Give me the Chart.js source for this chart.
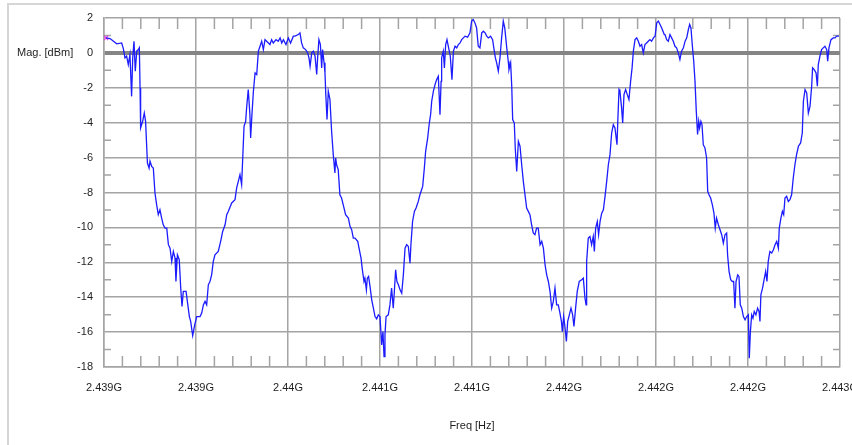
<!DOCTYPE html>
<html>
<head>
<meta charset="utf-8">
<script src="https://cdn.jsdelivr.net/npm/chart.js@4.4.0/dist/chart.umd.min.js"></script>
<style>
  html, body { margin: 0; padding: 0; background: #fff; }
  canvas { display: block; }
</style>
</head>
<body>
<canvas id="spectrum" width="852" height="445"></canvas>
<script>
// frequency in MHz, magnitude in dBm
const freqMHz = [
  2439.011, 2439.033, 2439.069, 2439.096, 2439.105, 2439.114, 2439.123, 2439.132, 2439.141, 2439.150,
  2439.156, 2439.163, 2439.170, 2439.178, 2439.187, 2439.192, 2439.196, 2439.199, 2439.210, 2439.219,
  2439.226, 2439.236, 2439.245, 2439.250, 2439.259, 2439.268, 2439.277, 2439.286, 2439.295, 2439.304,
  2439.313, 2439.322, 2439.332, 2439.341, 2439.350, 2439.359, 2439.368, 2439.377, 2439.386, 2439.391,
  2439.399, 2439.409, 2439.417, 2439.424, 2439.431, 2439.446, 2439.453, 2439.464, 2439.471, 2439.482,
  2439.493, 2439.504, 2439.522, 2439.531, 2439.540, 2439.549, 2439.558, 2439.567, 2439.576, 2439.585,
  2439.594, 2439.603, 2439.621, 2439.634, 2439.645, 2439.658, 2439.667, 2439.676, 2439.694, 2439.712,
  2439.721, 2439.730, 2439.739, 2439.748, 2439.754, 2439.761, 2439.770, 2439.775, 2439.784, 2439.793,
  2439.797, 2439.804, 2439.812, 2439.821, 2439.830, 2439.839, 2439.848, 2439.857, 2439.866, 2439.875,
  2439.884, 2439.902, 2439.911, 2439.920, 2439.935, 2439.947, 2439.957, 2439.966, 2439.975, 2439.989,
  2440.002, 2440.014, 2440.029,
  2440.038, 2440.056, 2440.065, 2440.074, 2440.083, 2440.096, 2440.107, 2440.114, 2440.120, 2440.129,
  2440.138, 2440.147, 2440.156, 2440.161, 2440.168, 2440.176, 2440.183, 2440.188, 2440.196, 2440.201,
  2440.205, 2440.212, 2440.219, 2440.228, 2440.237, 2440.246, 2440.255, 2440.259, 2440.264, 2440.273,
  2440.282, 2440.291, 2440.300, 2440.313, 2440.328, 2440.337, 2440.346, 2440.355, 2440.364, 2440.379,
  2440.386, 2440.397, 2440.403, 2440.413, 2440.418, 2440.426, 2440.431, 2440.438, 2440.447, 2440.455,
  2440.464, 2440.473, 2440.482, 2440.491, 2440.500, 2440.509, 2440.516, 2440.522, 2440.527, 2440.533,
  2440.545, 2440.554, 2440.563, 2440.572, 2440.578, 2440.585, 2440.592, 2440.600, 2440.609, 2440.618,
  2440.627, 2440.636, 2440.645, 2440.654, 2440.663, 2440.668, 2440.677, 2440.687, 2440.696, 2440.708,
  2440.717, 2440.732, 2440.741, 2440.748, 2440.759, 2440.768, 2440.775, 2440.781, 2440.790, 2440.799,
  2440.808, 2440.817, 2440.826, 2440.832, 2440.835, 2440.844, 2440.850, 2440.857, 2440.864, 2440.873,
  2440.882, 2440.891, 2440.899, 2440.908, 2440.917, 2440.926, 2440.935, 2440.944, 2440.953, 2440.962,
  2440.976, 2440.989, 2440.998, 2441.007, 2441.016, 2441.025, 2441.034, 2441.043,
  2441.053, 2441.062, 2441.071, 2441.080, 2441.089, 2441.101, 2441.112, 2441.120, 2441.127, 2441.134,
  2441.143, 2441.152, 2441.161, 2441.170, 2441.178, 2441.188, 2441.197, 2441.201, 2441.210, 2441.216,
  2441.221, 2441.230, 2441.235, 2441.243, 2441.252, 2441.261, 2441.270, 2441.279, 2441.288, 2441.297,
  2441.306, 2441.315, 2441.324, 2441.333, 2441.342, 2441.351, 2441.360, 2441.370, 2441.379, 2441.388,
  2441.397, 2441.406, 2441.415, 2441.424, 2441.433, 2441.442, 2441.451, 2441.460, 2441.469, 2441.478,
  2441.486, 2441.491, 2441.498, 2441.505, 2441.513, 2441.520, 2441.529, 2441.538, 2441.547, 2441.554,
  2441.563, 2441.572, 2441.583, 2441.596, 2441.605, 2441.614, 2441.620, 2441.623, 2441.632, 2441.641,
  2441.650, 2441.659, 2441.665, 2441.672, 2441.681, 2441.688, 2441.696, 2441.705, 2441.714, 2441.723,
  2441.732, 2441.741, 2441.750, 2441.759, 2441.768, 2441.777, 2441.788, 2441.792, 2441.799, 2441.804,
  2441.813, 2441.819, 2441.826, 2441.835, 2441.844, 2441.853, 2441.862, 2441.870, 2441.877, 2441.886,
  2441.895, 2441.904, 2441.913, 2441.922, 2441.931, 2441.940, 2441.949, 2441.958, 2441.967, 2441.976,
  2441.986, 2441.995, 2442.004, 2442.013, 2442.022, 2442.031, 2442.045,
  2442.049, 2442.058, 2442.067, 2442.076, 2442.085, 2442.094, 2442.103, 2442.112, 2442.121, 2442.130,
  2442.139, 2442.149, 2442.158, 2442.167, 2442.176, 2442.183, 2442.190, 2442.197, 2442.205, 2442.212,
  2442.219, 2442.226, 2442.232, 2442.237, 2442.244, 2442.250, 2442.257, 2442.266, 2442.275, 2442.281,
  2442.288, 2442.297, 2442.306, 2442.315, 2442.322, 2442.329, 2442.339, 2442.348, 2442.357, 2442.366,
  2442.375, 2442.384, 2442.389, 2442.397, 2442.406, 2442.415, 2442.422, 2442.429, 2442.435, 2442.444,
  2442.451, 2442.458, 2442.466, 2442.475, 2442.484, 2442.493, 2442.502, 2442.507, 2442.513, 2442.520,
  2442.527, 2442.534, 2442.543, 2442.552, 2442.560, 2442.565, 2442.570, 2442.579, 2442.589, 2442.596,
  2442.603, 2442.610, 2442.619, 2442.629, 2442.638, 2442.647, 2442.656, 2442.665, 2442.670, 2442.679,
  2442.687, 2442.694, 2442.701, 2442.710, 2442.719, 2442.728, 2442.737, 2442.746, 2442.755, 2442.764,
  2442.774, 2442.786, 2442.795, 2442.801, 2442.810, 2442.819, 2442.828, 2442.837, 2442.846, 2442.851,
  2442.860, 2442.870, 2442.877, 2442.882, 2442.891, 2442.900, 2442.909, 2442.918, 2442.928, 2442.933,
  2442.940, 2442.951, 2442.963, 2442.973, 2442.982, 2442.994
];

const magDbm = [
  0.86, 0.82, 0.52, 0.57, 0.25, -0.29, -0.19, -0.67, -0.10, -2.49,
  -0.29, 0.67, -1.05, 0.10, 0.19, 0.29, -2.01, -4.30, -3.92, -3.44,
  -3.92, -6.31, -6.60, -6.21, -6.50, -6.60, -8.03, -8.70, -9.27, -8.99,
  -9.46, -9.85, -10.04, -10.04, -10.99, -11.19, -11.95, -11.38, -11.76, -13.10,
  -11.57, -11.85, -13.48, -14.53, -13.67, -13.67, -14.24, -15.11, -15.39, -16.20,
  -15.58, -15.11, -15.11, -14.91, -14.44, -14.24, -14.44, -13.29, -13.10, -12.72,
  -11.95, -11.57, -11.38, -10.80, -10.23, -9.85, -9.27, -9.08, -8.60, -8.41,
  -7.74, -7.36, -6.98, -7.55, -6.02, -4.21, -3.92, -3.15, -2.10, -3.54,
  -4.88, -3.54, -2.20, -1.15, -1.24, 0.10, 0.38, 0.67, 0.19, 0.76,
  0.67, 0.48, 0.76, 0.57, 0.76, 0.67, 0.86, 0.57, 0.76, 0.48,
  0.86, 0.57, 0.96,
  0.96, 1.05, 1.15, 0.57, 0.29, 0.19, 0.00, -0.29, -0.76, 0.00,
  0.10, -0.19, -1.24, -0.29, 0.76, 0.48, -0.86, 0.19, -0.57, -1.15,
  -2.29, -3.82, -2.20, -2.68, -4.49, -5.83, -6.88, -6.02, -6.41, -6.69,
  -8.13, -8.32, -8.70, -9.27, -9.46, -9.94, -10.13, -10.61, -10.61, -10.80,
  -11.19, -11.76, -12.33, -13.10, -12.91, -13.58, -12.91, -12.81, -13.48, -14.15,
  -14.63, -15.11, -15.24, -15.01, -15.11, -16.73, -15.97, -17.40, -16.16, -15.11,
  -15.01, -14.44, -13.48, -14.63, -13.67, -12.43, -13.10, -13.29, -13.58, -13.77,
  -12.72, -11.19, -10.99, -11.09, -12.05, -10.99, -9.66, -9.08, -8.89, -8.51,
  -8.13, -7.65, -6.60, -5.64, -4.88, -4.02, -3.54, -2.77, -2.20, -1.82,
  -1.53, -1.34, -3.54, -1.63, -0.29, 0.10, -0.86, 0.48, 0.76, 0.29,
  -0.19, -1.53, 0.10, 0.38, 0.29, 0.48, 0.57, 0.76, 0.86, 0.96,
  0.90, 1.15, 1.82, 1.91, 1.72, 1.43, 0.38, 0.29,
  1.15, 1.24, 1.15, 0.96, 0.86, 0.96, 0.76, 0.19, -0.29, -0.57,
  -1.05, -0.29, 0.86, 1.82, 1.43, 0.38, -0.48, -0.96, -0.57, -1.91,
  -3.82, -4.02, -5.45, -6.79, -5.07, -5.35, -6.41, -7.36, -8.13, -8.89,
  -9.08, -9.27, -9.85, -10.32, -10.42, -10.04, -10.04, -10.99, -10.80, -11.19,
  -12.14, -12.72, -13.10, -13.67, -14.63, -14.24, -13.48, -14.44, -14.44, -14.91,
  -15.39, -15.97, -15.11, -15.68, -16.54, -15.39, -15.01, -14.63, -15.01, -15.68,
  -14.63, -13.67, -13.10, -13.00, -12.91, -14.05, -14.44, -11.95, -10.61, -10.52,
  -10.99, -10.52, -11.38, -10.04, -9.66, -10.42, -9.66, -9.18, -8.99, -8.22,
  -7.36, -6.41, -5.83, -4.59, -4.11, -4.30, -5.26, -4.02, -2.10, -2.20,
  -3.15, -4.02, -2.39, -2.10, -2.39, -2.68, -1.63, -0.86, 0.10, 0.76,
  0.86, 0.67, 0.38, 0.48, 0.00, 0.48, 0.57, 0.67, 0.76, 0.67,
  0.86, 0.96, 1.72, 1.82, 1.63, 1.43, 1.05,
  1.05, 0.76, 0.67, 1.05, 0.86, 0.67, 0.38, 0.29, 0.00, -0.38,
  0.10, 0.29, 0.67, 0.86, 1.34, 1.63, 1.43, 0.48, -0.48, -1.63,
  -3.35, -4.68, -3.92, -4.30, -3.92, -4.11, -5.26, -5.45, -6.02, -7.93,
  -8.13, -8.32, -8.70, -9.18, -10.04, -9.46, -9.85, -10.13, -10.42, -10.90,
  -10.42, -10.32, -11.57, -12.52, -13.00, -13.10, -13.10, -14.63, -13.10, -12.72,
  -12.81, -14.44, -14.63, -15.11, -15.30, -15.11, -15.01, -17.50, -15.97, -15.01,
  -15.20, -14.82, -15.01, -14.63, -14.82, -15.39, -13.86, -13.48, -12.91, -12.52,
  -13.10, -11.95, -11.38, -11.47, -11.28, -10.99, -10.80, -11.19, -10.04, -9.46,
  -9.08, -9.27, -8.32, -8.22, -8.51, -8.41, -8.13, -7.17, -6.41, -5.83,
  -5.35, -5.16, -4.59, -2.77, -2.10, -2.29, -3.44, -3.06, -1.91, -0.86,
  -0.96, -1.15, -1.91, -0.67, -0.19, 0.19, 0.29, 0.38, 0.19, -0.48,
  0.29, 0.76, 0.86, 0.86, 0.96, 0.96
];

// axis labels as the analyser prints them (rounded)
const freqTickLabels = ['2.439G', '2.439G', '2.44G', '2.441G', '2.441G', '2.442G', '2.442G', '2.442G', '2.443G'];
const freqMin = 2439, freqMax = 2443, freqStep = 0.5;
const magMin = -18, magMax = 2, magStep = 2;

const points = freqMHz.map((f, i) => ({ x: f, y: magDbm[i] }));

const GRID = '#a4a4a4';
const TEXT = '#1e1e1e';

// the labels in the screenshot are tall and narrow: use the narrow face if it is there
function pickFont() {
  const c = document.createElement('canvas').getContext('2d');
  c.font = '14px monospace';
  const mono = c.measureText('Mag. [dBm] 2.439G').width;
  c.font = '14px "Liberation Sans Narrow", monospace';
  const narrow = c.measureText('Mag. [dBm] 2.439G').width;
  if (Math.abs(mono - narrow) > 0.5) return { family: '"Liberation Sans Narrow"', size: 13.5 };
  return { family: '"Liberation Sans", Arial, sans-serif', size: 11 };
}
const FONT = pickFont();

// white sheet with the light panel frame
const panel = {
  id: 'panel',
  beforeDraw(chart) {
    const ctx = chart.ctx;
    ctx.save();
    ctx.fillStyle = '#fff';
    ctx.fillRect(0, 0, chart.width, chart.height);
    ctx.strokeStyle = '#d6d6d6';
    ctx.lineWidth = 2;
    ctx.beginPath();
    ctx.moveTo(8, chart.height);
    ctx.lineTo(8, 4);
    ctx.lineTo(chart.width, 4);
    ctx.stroke();
    ctx.restore();
  }
};

// small inward ticks between the grid lines
const minorTicks = {
  id: 'minorTicks',
  beforeDatasetsDraw(chart) {
    const { ctx, chartArea: a, scales: { x, y } } = chart;
    ctx.save();
    ctx.strokeStyle = GRID;
    ctx.lineWidth = 1.5;
    ctx.beginPath();
    for (let v = magMin + 1; v < magMax; v += magStep) {
      const py = y.getPixelForValue(v);
      ctx.moveTo(a.left, py); ctx.lineTo(a.left + 7, py);
      ctx.moveTo(a.right, py); ctx.lineTo(a.right - 7, py);
    }
    const sub = freqStep / 5;
    for (let k = 1; k < (freqMax - freqMin) / sub; k++) {
      if (k % 5 === 0) continue;
      const px = x.getPixelForValue(freqMin + k * sub);
      ctx.moveTo(px, a.top); ctx.lineTo(px, a.top + 11);
      ctx.moveTo(px, a.bottom); ctx.lineTo(px, a.bottom - 11);
    }
    ctx.stroke();
    ctx.restore();
  }
};

// horizontal y-axis caption next to the 0 dBm row
const magCaption = {
  id: 'magCaption',
  afterDraw(chart) {
    const { ctx, scales: { y } } = chart;
    ctx.save();
    ctx.fillStyle = TEXT;
    ctx.font = FONT.size + 'px ' + FONT.family;
    ctx.textAlign = 'left';
    ctx.textBaseline = 'middle';
    ctx.fillText('Mag. [dBm]', 17, y.getPixelForValue(0));
    ctx.restore();
  }
};

new Chart(document.getElementById('spectrum'), {
  type: 'line',
  data: {
    datasets: [{
      data: points,
      borderColor: '#1c1cff',
      borderWidth: 1.3,
      pointRadius: 0,
      tension: 0
    }, {
      // marker at the first sample
      data: [points[0]],
      showLine: false,
      pointStyle: 'crossRot',
      pointRadius: 3,
      borderColor: '#e040e0',
      borderWidth: 1.2
    }]
  },
  options: {
    responsive: false,
    animation: false,
    layout: { padding: { top: 18, right: 12, left: 0, bottom: 0 } },
    plugins: { legend: { display: false }, tooltip: { enabled: false } },
    scales: {
      x: {
        type: 'linear',
        min: freqMin,
        max: freqMax,
        ticks: {
          stepSize: freqStep,
          padding: 14,
          maxRotation: 0,
          autoSkip: false,
          color: TEXT,
          font: FONT,
          callback: v => freqTickLabels[Math.round((v - freqMin) / freqStep)]
        },
        grid: { color: GRID, lineWidth: 1.5, drawTicks: false },
        border: { color: GRID, width: 1.5 },
        title: { display: true, text: 'Freq [Hz]', color: TEXT, font: FONT, padding: { top: 0, bottom: 12 } },
        afterFit: s => { s.height = 78; s.paddingLeft = 0; s.paddingRight = 0; }
      },
      y: {
        min: magMin,
        max: magMax,
        ticks: { stepSize: magStep, padding: 11, color: TEXT, font: FONT },
        grid: {
          drawTicks: false,
          color: c => c.tick && c.tick.value === 0 ? '#858585' : GRID,
          lineWidth: c => c.tick && c.tick.value === 0 ? 4 : 1.5
        },
        border: { color: GRID, width: 1.5 },
        afterFit: s => { s.width = 104; }
      }
    }
  },
  plugins: [panel, minorTicks, magCaption]
});
</script>
</body>
</html>
